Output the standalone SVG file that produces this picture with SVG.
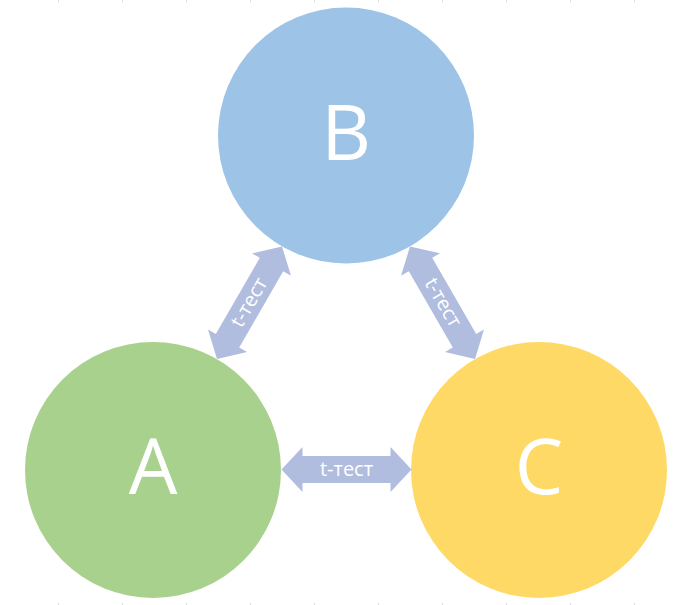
<svg xmlns="http://www.w3.org/2000/svg" width="689" height="605" viewBox="0 0 689 605">
<defs>
<style>
.tick{stroke:#d9d9d9;stroke-width:1}
.node-label{font-family:"Open Sans","Noto Sans","DejaVu Sans",sans-serif;font-size:77px;fill:#ffffff;text-anchor:middle}
.arrow{fill:#b1bddf}
.arrow-label{font-family:"Open Sans","Noto Sans","DejaVu Sans",sans-serif;font-size:20px;fill:#ffffff;text-anchor:middle}
</style>
<path id="dbl" d="M-65,0 L-44,-22.5 L-44,-13.5 L44,-13.5 L44,-22.5 L65,0 L44,22.5 L44,13.5 L-44,13.5 L-44,22.5 Z"/>
</defs>
<rect width="689" height="605" fill="#ffffff"/>
<g id="ticks">
<path class="tick" d="M58.5,0V2M122.5,0V2M186.5,0V2M250.5,0V2M314.5,0V2M378.5,0V2M442.5,0V2M506.5,0V2M570.5,0V2M634.5,0V2"/>
<path class="tick" d="M58.5,603V605M122.5,603V605M186.5,603V605M250.5,603V605M314.5,603V605M378.5,603V605M442.5,603V605M506.5,603V605M570.5,603V605M634.5,603V605"/>
</g>
<g id="node-B">
<circle cx="346" cy="135.5" r="128" fill="#9dc3e6"/>
<text class="node-label" x="346" y="159.5">B</text>
</g>
<g id="node-A">
<circle cx="153" cy="470" r="128" fill="#a9d18e"/>
<text class="node-label" x="153" y="494">A</text>
</g>
<g id="node-C">
<circle cx="539" cy="470" r="128" fill="#ffd966"/>
<text class="node-label" x="539" y="494">C</text>
</g>
<g id="connectors">
<g transform="translate(249.5,302.7) rotate(-60)">
<use href="#dbl" class="arrow"/>
<text class="arrow-label" x="0" y="6">t-тест</text>
</g>
<g transform="translate(442.5,302.7) rotate(60)">
<use href="#dbl" class="arrow"/>
<text class="arrow-label" x="0" y="6">t-тест</text>
</g>
<g transform="translate(346.5,469.5)">
<use href="#dbl" class="arrow"/>
<text class="arrow-label" x="0" y="6">t-тест</text>
</g>
</g>
</svg>
